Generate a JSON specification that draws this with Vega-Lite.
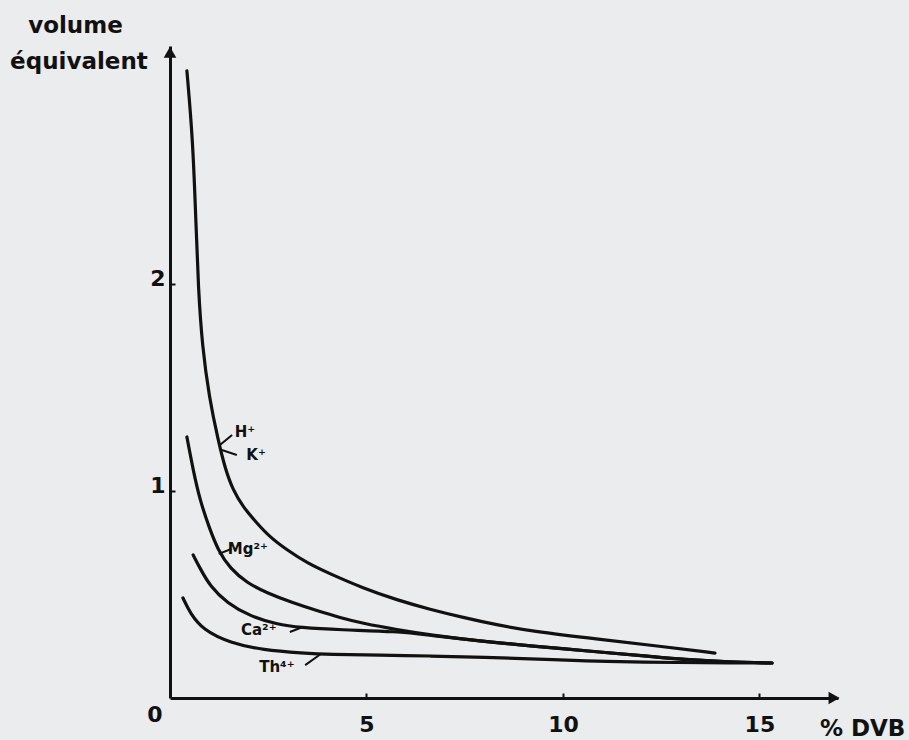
{
  "$schema": "https://vega.github.io/schema/vega-lite/v6.json",
  "width": 668,
  "height": 652,
  "autosize": {"type": "none"},
  "padding": {"left": 170, "top": 46, "right": 71, "bottom": 42},
  "background": "#eaeced",
  "config": {"view": {"stroke": null}, "font": "DejaVu Sans"},
  "datasets": {
    "curves": [
      {"series": "H+", "x": 0.43, "y": 3.03},
      {"series": "H+", "x": 0.58, "y": 2.70},
      {"series": "H+", "x": 0.66, "y": 2.30},
      {"series": "H+", "x": 0.72, "y": 1.98},
      {"series": "H+", "x": 0.82, "y": 1.70},
      {"series": "H+", "x": 1.00, "y": 1.45},
      {"series": "H+", "x": 1.22, "y": 1.25},
      {"series": "H+", "x": 1.40, "y": 1.11},
      {"series": "H+", "x": 1.60, "y": 1.005},
      {"series": "H+", "x": 1.86, "y": 0.923},
      {"series": "H+", "x": 2.21, "y": 0.845},
      {"series": "H+", "x": 2.54, "y": 0.778},
      {"series": "H+", "x": 2.98, "y": 0.715},
      {"series": "H+", "x": 3.49, "y": 0.652},
      {"series": "H+", "x": 4.07, "y": 0.600},
      {"series": "H+", "x": 4.91, "y": 0.531},
      {"series": "H+", "x": 5.78, "y": 0.473},
      {"series": "H+", "x": 6.62, "y": 0.428},
      {"series": "H+", "x": 7.46, "y": 0.389},
      {"series": "H+", "x": 8.32, "y": 0.353},
      {"series": "H+", "x": 9.16, "y": 0.324},
      {"series": "H+", "x": 10.94, "y": 0.283},
      {"series": "H+", "x": 12.47, "y": 0.250},
      {"series": "H+", "x": 13.87, "y": 0.217},
      {"series": "Mg2+", "x": 0.43, "y": 1.261},
      {"series": "Mg2+", "x": 0.59, "y": 1.101},
      {"series": "Mg2+", "x": 0.76, "y": 0.957},
      {"series": "Mg2+", "x": 1.00, "y": 0.822},
      {"series": "Mg2+", "x": 1.22, "y": 0.715},
      {"series": "Mg2+", "x": 1.53, "y": 0.625},
      {"series": "Mg2+", "x": 1.96, "y": 0.556},
      {"series": "Mg2+", "x": 2.47, "y": 0.507},
      {"series": "Mg2+", "x": 3.13, "y": 0.459},
      {"series": "Mg2+", "x": 3.74, "y": 0.422},
      {"series": "Mg2+", "x": 4.33, "y": 0.388},
      {"series": "Mg2+", "x": 4.91, "y": 0.360},
      {"series": "Mg2+", "x": 5.78, "y": 0.330},
      {"series": "Mg2+", "x": 6.62, "y": 0.305},
      {"series": "Mg2+", "x": 7.89, "y": 0.275},
      {"series": "Mg2+", "x": 9.16, "y": 0.252},
      {"series": "Mg2+", "x": 10.94, "y": 0.222},
      {"series": "Mg2+", "x": 12.21, "y": 0.201},
      {"series": "Mg2+", "x": 13.05, "y": 0.186},
      {"series": "Mg2+", "x": 14.25, "y": 0.174},
      {"series": "Mg2+", "x": 15.32, "y": 0.169},
      {"series": "Ca2+", "x": 0.59, "y": 0.691},
      {"series": "Ca2+", "x": 0.76, "y": 0.628},
      {"series": "Ca2+", "x": 1.02, "y": 0.540},
      {"series": "Ca2+", "x": 1.45, "y": 0.459},
      {"series": "Ca2+", "x": 2.04, "y": 0.395},
      {"series": "Ca2+", "x": 2.72, "y": 0.356},
      {"series": "Ca2+", "x": 3.31, "y": 0.340},
      {"series": "Ca2+", "x": 4.33, "y": 0.329},
      {"series": "Ca2+", "x": 5.78, "y": 0.322},
      {"series": "Ca2+", "x": 6.62, "y": 0.303},
      {"series": "Ca2+", "x": 7.89, "y": 0.275},
      {"series": "Ca2+", "x": 9.16, "y": 0.252},
      {"series": "Ca2+", "x": 10.94, "y": 0.222},
      {"series": "Ca2+", "x": 12.21, "y": 0.201},
      {"series": "Ca2+", "x": 13.05, "y": 0.186},
      {"series": "Ca2+", "x": 14.25, "y": 0.174},
      {"series": "Ca2+", "x": 15.32, "y": 0.169},
      {"series": "Th4+", "x": 0.33, "y": 0.483},
      {"series": "Th4+", "x": 0.51, "y": 0.411},
      {"series": "Th4+", "x": 0.84, "y": 0.329},
      {"series": "Th4+", "x": 1.53, "y": 0.266},
      {"series": "Th4+", "x": 2.37, "y": 0.232},
      {"series": "Th4+", "x": 3.38, "y": 0.217},
      {"series": "Th4+", "x": 4.07, "y": 0.21},
      {"series": "Th4+", "x": 5.34, "y": 0.207},
      {"series": "Th4+", "x": 6.62, "y": 0.203},
      {"series": "Th4+", "x": 7.89, "y": 0.198},
      {"series": "Th4+", "x": 9.92, "y": 0.184},
      {"series": "Th4+", "x": 10.94, "y": 0.176},
      {"series": "Th4+", "x": 13.05, "y": 0.171},
      {"series": "Th4+", "x": 14.25, "y": 0.169},
      {"series": "Th4+", "x": 15.32, "y": 0.169}
    ],
    "leaders": [
      {"x": 1.27, "y": 1.222, "x2": 1.58, "y2": 1.271},
      {"x": 1.32, "y": 1.198, "x2": 1.70, "y2": 1.174},
      {"x": 1.24, "y": 0.696, "x2": 1.56, "y2": 0.720},
      {"x": 3.05, "y": 0.319, "x2": 3.38, "y2": 0.343},
      {"x": 3.44, "y": 0.159, "x2": 3.82, "y2": 0.210}
    ],
    "ionLabels": [
      {"text": "H⁺", "x": 1.91, "y": 1.285},
      {"text": "K⁺", "x": 2.19, "y": 1.174},
      {"text": "Mg²⁺", "x": 1.98, "y": 0.720},
      {"text": "Ca²⁺", "x": 2.26, "y": 0.329},
      {"text": "Th⁴⁺", "x": 2.72, "y": 0.150}
    ],
    "axisTexts": [
      {"text": "volume", "x": -3.61, "y": 3.213},
      {"text": "équivalent", "x": -4.07, "y": 3.039},
      {"text": "% DVB", "x": 16.54, "y": -0.185}
    ],
    "origin": [{"text": "0", "x": 0, "y": 0}],
    "arrows": [
      {"x": 0, "y": 3.12, "shape": "triangle-up"},
      {"x": 16.9, "y": 0, "shape": "triangle-right"}
    ]
  },
  "layer": [
    {
      "data": {"name": "curves"},
      "mark": {"type": "line", "interpolate": "basis", "stroke": "#111111", "strokeWidth": 3.2, "strokeCap": "round"},
      "encoding": {
        "x": {
          "field": "x", "type": "quantitative",
          "scale": {"domain": [0, 17], "nice": false, "zero": false},
          "axis": {
            "values": [5, 10, 15], "title": null, "grid": false, "format": "d",
            "domainWidth": 3, "domainColor": "#111111",
            "ticks": true, "tickSize": -5, "tickWidth": 2, "tickColor": "#111111",
            "labelFontSize": 22, "labelFontWeight": "bold", "labelColor": "#111111",
            "labelPadding": 21
          }
        },
        "y": {
          "field": "y", "type": "quantitative",
          "scale": {"domain": [0, 3.15], "nice": false, "zero": false},
          "axis": {
            "values": [1, 2], "title": null, "grid": false, "format": "d",
            "domainWidth": 3, "domainColor": "#111111",
            "ticks": true, "tickSize": -5, "tickWidth": 2, "tickColor": "#111111",
            "labelFontSize": 22, "labelFontWeight": "bold", "labelColor": "#111111",
            "labelPadding": 10, "labelOffset": -6
          }
        },
        "detail": {"field": "series"},
        "order": {"field": "x"}
      }
    },
    {
      "data": {"name": "leaders"},
      "mark": {"type": "rule", "stroke": "#111111", "strokeWidth": 2},
      "encoding": {
        "x": {"field": "x", "type": "quantitative"},
        "y": {"field": "y", "type": "quantitative"},
        "x2": {"field": "x2"},
        "y2": {"field": "y2"}
      }
    },
    {
      "data": {"name": "ionLabels"},
      "mark": {"type": "text", "fontSize": 15, "fontWeight": "bold", "color": "#111111", "align": "center", "baseline": "middle"},
      "encoding": {
        "x": {"field": "x", "type": "quantitative"},
        "y": {"field": "y", "type": "quantitative"},
        "text": {"field": "text"}
      }
    },
    {
      "data": {"name": "axisTexts"},
      "mark": {"type": "text", "fontSize": 23, "fontWeight": "bold", "color": "#111111", "align": "left", "baseline": "alphabetic"},
      "encoding": {
        "x": {"field": "x", "type": "quantitative"},
        "y": {"field": "y", "type": "quantitative"},
        "text": {"field": "text"}
      }
    },
    {
      "data": {"name": "origin"},
      "mark": {"type": "text", "fontSize": 22, "fontWeight": "bold", "color": "#111111", "align": "center", "baseline": "middle", "dx": -15, "dy": 17},
      "encoding": {
        "x": {"field": "x", "type": "quantitative"},
        "y": {"field": "y", "type": "quantitative"},
        "text": {"field": "text"}
      }
    },
    {
      "data": {"name": "arrows"},
      "mark": {"type": "point", "filled": true, "size": 160, "color": "#111111", "opacity": 1},
      "encoding": {
        "x": {"field": "x", "type": "quantitative"},
        "y": {"field": "y", "type": "quantitative"},
        "shape": {"field": "shape", "type": "nominal", "scale": null}
      }
    }
  ]
}
